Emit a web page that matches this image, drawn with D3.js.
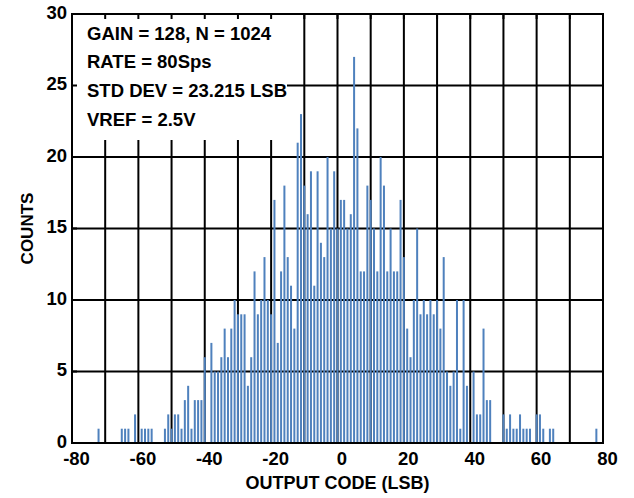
<!DOCTYPE html>
<html>
<head>
<meta charset="utf-8">
<script src="https://cdn.jsdelivr.net/npm/d3@7"></script>
<style>
  html, body { margin: 0; padding: 0; background: #fff; }
  svg text { font-family: "Liberation Sans", Arial, sans-serif; font-weight: bold; fill: #000; }
</style>
</head>
<body>
<div id="chart"></div>
<script>
// ── Histogram data (output code in LSB → counts), zero bins left out
const codes = [
  -72, -65, -64, -63, -61, -59, -58, -57, -56, -52, -51, -50,
  -49, -48, -47, -46, -45, -44, -43, -42, -41, -40,
  -38, -37, -36, -35, -34, -33, -32, -31, -30,
  -29, -28, -27, -26, -25, -24, -23, -22, -21, -20,
  -19, -18, -17, -16, -15, -14, -13, -12, -11, -10,
  -9, -8, -7, -6, -5, -4, -3, -2, -1, 0,
  1, 2, 3, 4, 5, 6, 7, 8, 9, 10,
  11, 12, 13, 14, 15, 16, 17, 18, 19, 20,
  21, 22, 23, 24, 25, 26, 27, 28, 29, 30,
  31, 32, 33, 34, 35, 36, 37, 38, 39,
  41, 42, 43, 44, 45, 46,
  50, 51, 52, 53, 54, 55, 56, 57, 58, 60, 61, 62, 64, 65, 78
];
const counts = [
  1, 1, 1, 1, 2, 1, 1, 1, 1, 1, 2, 1,
  2, 2, 1, 3, 4, 1, 3, 3, 3, 6,
  7, 5, 5, 6, 8, 6, 8, 10, 9,
  9, 9, 4, 6, 12, 9, 10, 13, 10, 9,
  17, 7, 12, 18, 13, 11, 8, 21, 23, 18,
  16, 19, 11, 19, 14, 13, 20, 15, 19, 15,
  17, 17, 15, 16, 27, 22, 12, 12, 18, 17,
  15, 12, 20, 18, 12, 15, 12, 12, 17, 13,
  8, 6, 10, 15, 9, 10, 9, 10, 9, 10,
  8, 13, 5, 4, 5, 10, 1, 10, 4,
  5, 2, 2, 8, 3, 3,
  2, 1, 2, 1, 1, 2, 1, 1, 1, 2, 2, 1, 1, 1, 1
];

const xDomain = [-80, 80];
const yDomain = [0, 30];
const xTickLabels = [-80, -60, -40, -20, 0, 20, 40, 60, 80];
const yTickLabels = [0, 5, 10, 15, 20, 25, 30];
const notes = [
  'GAIN = 128, N = 1024',
  'RATE = 80Sps',
  'STD DEV = 23.215 LSB',
  'VREF = 2.5V'
];

// ── Layout
const width  = 634;
const height = 498;
const plot = { left: 72, top: 14, right: 603, bottom: 443 };
const barColor = '#4f81bd';

const svg = d3.select('#chart')
  .append('svg')
  .attr('width', width)
  .attr('height', height);

const x = d3.scaleLinear().domain(xDomain).range([plot.left, plot.right]);
const y = d3.scaleLinear().domain(yDomain).range([plot.bottom, plot.top]);

// grid lines every 10 LSB / 5 counts
const xGrid = x.ticks(16).filter(d => d > xDomain[0] && d < xDomain[1]);
const yGrid = y.ticks(6).filter(d => d > yDomain[0] && d < yDomain[1]);

svg.append('g')
  .selectAll('line')
  .data(xGrid)
  .join('line')
  .attr('x1', d => x(d)).attr('x2', d => x(d))
  .attr('y1', plot.top).attr('y2', plot.bottom)
  .attr('stroke', '#000').attr('stroke-width', 2);

svg.append('g')
  .selectAll('line')
  .data(yGrid)
  .join('line')
  .attr('x1', plot.left).attr('x2', plot.right)
  .attr('y1', d => y(d)).attr('y2', d => y(d))
  .attr('stroke', '#000').attr('stroke-width', 2);

// white box behind the notes
const box = { x: plot.left, y: plot.top, w: 215, h: 126 };
svg.append('rect')
  .attr('x', box.x).attr('y', box.y)
  .attr('width', box.w).attr('height', box.h)
  .attr('fill', '#fff');

// small inward ticks (show only where the box hides the grid)
svg.append('g')
  .selectAll('line')
  .data(xGrid)
  .join('line')
  .attr('x1', d => x(d)).attr('x2', d => x(d))
  .attr('y1', plot.top).attr('y2', plot.top + 5)
  .attr('stroke', '#000').attr('stroke-width', 2);

svg.append('g')
  .selectAll('line')
  .data(yGrid)
  .join('line')
  .attr('x1', plot.left).attr('x2', plot.left + 5)
  .attr('y1', d => y(d)).attr('y2', d => y(d))
  .attr('stroke', '#000').attr('stroke-width', 2);

// bars
const bins = codes.map((c, i) => ({ code: c, count: counts[i] }));
svg.append('g')
  .selectAll('rect')
  .data(bins)
  .join('rect')
  .attr('x', d => x(d.code) - 1)
  .attr('width', 2)
  .attr('y', d => y(d.count))
  .attr('height', d => y(0) - y(d.count))
  .attr('fill', barColor);

// frame
svg.append('rect')
  .attr('x', plot.left).attr('y', plot.top)
  .attr('width', plot.right - plot.left)
  .attr('height', plot.bottom - plot.top)
  .attr('fill', 'none')
  .attr('stroke', '#000')
  .attr('stroke-width', 2);

// notes
svg.append('g')
  .selectAll('text')
  .data(notes)
  .join('text')
  .attr('x', 87)
  .attr('y', (d, i) => 39.5 + i * 28.8)
  .style('font-size', '18.5px')
  .text(d => d);

// tick labels
svg.append('g')
  .selectAll('text')
  .data(xTickLabels)
  .join('text')
  .attr('x', d => x(d) + 4.5)
  .attr('y', 465)
  .attr('text-anchor', 'middle')
  .style('font-size', '18.5px')
  .text(d => String(d));

svg.append('g')
  .selectAll('text')
  .data(yTickLabels)
  .join('text')
  .attr('x', 67)
  .attr('y', d => y(d) + 4.5)
  .attr('text-anchor', 'end')
  .style('font-size', '18.5px')
  .text(d => String(d));

// axis titles
svg.append('text')
  .attr('x', (plot.left + plot.right) / 2)
  .attr('y', 489)
  .attr('text-anchor', 'middle')
  .style('font-size', '18px')
  .text('OUTPUT CODE (LSB)');

svg.append('text')
  .attr('transform', `translate(33,${(plot.top + plot.bottom) / 2}) rotate(-90)`)
  .attr('text-anchor', 'middle')
  .style('font-size', '17px')
  .text('COUNTS');
</script>
</body>
</html>
